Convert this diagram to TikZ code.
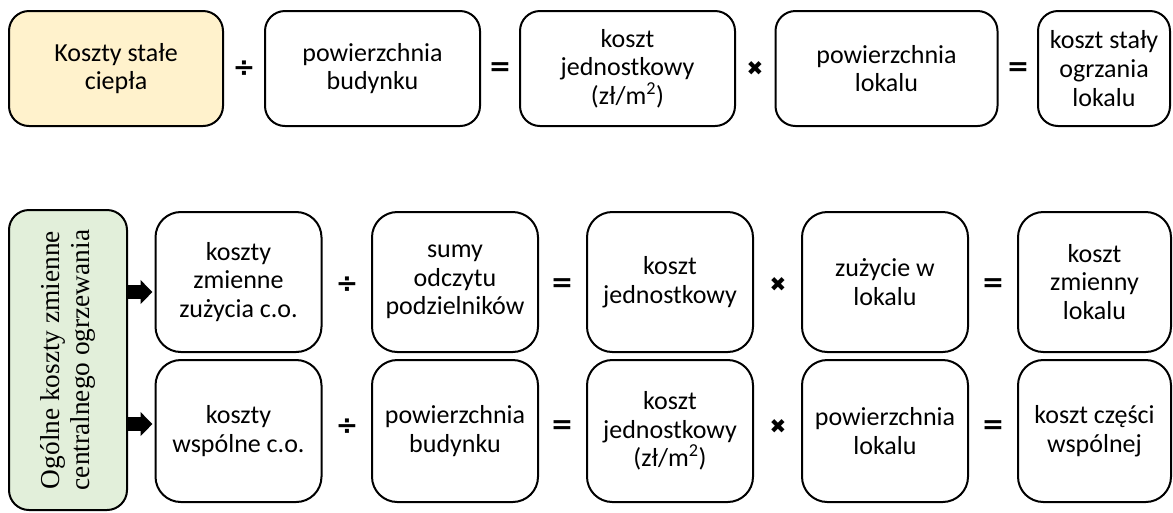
\documentclass[tikz,border=0pt]{standalone}
\usepackage{fontspec}
\setmainfont{Carlito}
\newfontfamily\serifbox{Liberation Serif}
\newfontfamily\opsfont{DejaVu Sans}
\usetikzlibrary{arrows.meta}
\definecolor{fixyellow}{RGB}{255,242,204}
\definecolor{varigreen}{RGB}{226,239,218}
\tikzset{every picture/.style={line width=0.75pt}}
\tikzset{
  costbox/.style={draw, line width=1.5pt, rounded corners=15pt, align=center, inner sep=0pt,
    font=\fontsize{19.5}{21.5}\selectfont},
  rowbox/.style={costbox, rounded corners=19pt, minimum width=124.5pt, minimum height=105pt},
  opsign/.style={inner sep=0pt, font=\opsfont\bfseries\fontsize{20}{20}\selectfont},
  blockarrow/.style={line width=10pt, -{Triangle[length=9pt,width=17.5pt]}},
}

\begin{document}
\begin{tikzpicture}[x=0.75pt,y=0.75pt,yscale=-1,xscale=1]
\useasboundingbox (0,0) rectangle (1173,512);

%Top row: fixed costs
\node (fixed) at (116,68.5) [costbox, fill=fixyellow, minimum width=160.5pt, minimum height=86.25pt] {Koszty stałe\\ciepła};
\node (fdiv) at (244,69) [opsign] {÷};
\node (fbuild) at (372.5,68.5) [costbox, minimum width=161.25pt, minimum height=86.25pt] {powierzchnia\\budynku};
\node (feq) at (500,69) [opsign] {=};
\node (funit) at (627.5,68.5) [costbox, minimum width=161.25pt, minimum height=86.25pt] {koszt\\jednostkowy\\(zł/m\textsuperscript{2})};
\node (fmul) at (755,69) [opsign] {\fontsize{15}{15}\selectfont ✖};
\node (flocal) at (886.5,68.5) [costbox, minimum width=166.5pt, minimum height=86.25pt] {powierzchnia\\lokalu};
\node (feq2) at (1018,69) [opsign] {=};
\node (fresult) at (1104,68.5) [costbox, minimum width=99pt, minimum height=86.25pt] {koszt stały\\ogrzania\\lokalu};

%Left: total variable costs
\node (total) at (68,360) [costbox, fill=varigreen, minimum width=88.5pt, minimum height=225pt] {};
\node (totaltxt) at (total.center) [rotate=90, align=center, font=\serifbox\fontsize{20.5}{22.5}\selectfont] {Ogólne koszty zmienne\\centralnego ogrzewania};

%Row 1: consumption
\node (cons) at (238.5,282) [rowbox] {koszty\\zmienne\\zużycia c.o.};
\node (cdiv) at (347,285) [opsign] {÷};
\node (csum) at (455,282) [rowbox] {sumy\\odczytu\\podzielników};
\node (ceq) at (562,285) [opsign] {=};
\node (cunit) at (670,282) [rowbox] {koszt\\jednostkowy};
\node (cmul) at (778,285) [opsign] {\fontsize{15}{15}\selectfont ✖};
\node (cuse) at (885,282) [rowbox] {zużycie w\\lokalu};
\node (ceq2) at (993,285) [opsign] {=};
\node (cresult) at (1094.5,282) [rowbox, minimum width=114.75pt] {koszt\\zmienny\\lokalu};

%Row 2: common part
\node (comm) at (238.5,431) [rowbox, minimum height=106.5pt] {koszty\\wspólne c.o.};
\node (mdiv) at (347,427) [opsign] {÷};
\node (mbuild) at (455,431) [rowbox, minimum height=106.5pt] {powierzchnia\\budynku};
\node (meq) at (562,427) [opsign] {=};
\node (munit) at (670,431) [rowbox, minimum height=106.5pt] {koszt\\jednostkowy\\(zł/m\textsuperscript{2})};
\node (mmul) at (778,427) [opsign] {\fontsize{15}{15}\selectfont ✖};
\node (mlocal) at (885,431) [rowbox, minimum height=106.5pt] {powierzchnia\\lokalu};
\node (meq2) at (993,427) [opsign] {=};
\node (mresult) at (1094.5,431) [rowbox, minimum width=114.75pt, minimum height=106.5pt] {koszt części\\wspólnej};

%Arrows
\draw [blockarrow] ([yshift=7.5pt]total.east |- cons.west) -- ([yshift=7.5pt,xshift=-1.5pt]cons.west);
\draw [blockarrow] ([yshift=-5.25pt]total.east |- comm.west) -- ([yshift=-5.25pt,xshift=-1.5pt]comm.west);

\end{tikzpicture}
\end{document}
